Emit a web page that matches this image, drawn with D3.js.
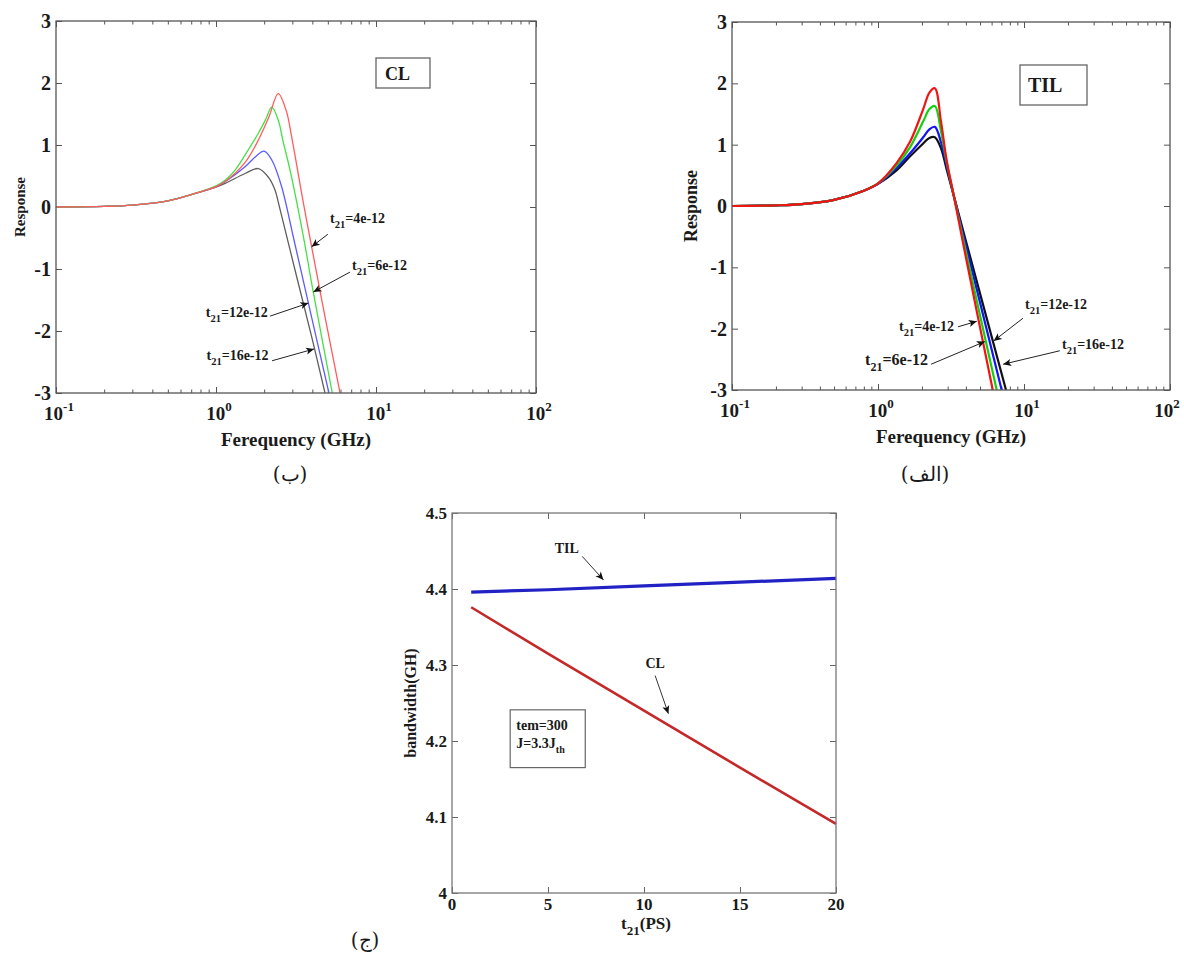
<!DOCTYPE html>
<html><head><meta charset="utf-8">
<script src="https://cdn.jsdelivr.net/npm/d3@7"></script>
<style>
body{margin:0;background:#fff}
svg{display:block}
text{font-family:"Liberation Serif","Times New Roman",serif;fill:#1a1a1a}
</style>
</head><body>
<svg id="c" width="1184" height="961"></svg>
<script>
// ---------------- DATA ----------------
const logTickValues = [0.1, 1, 10, 100];
const logTickExponents = ["-1", "0", "1", "2"];
const respTicks = [-3, -2, -1, 0, 1, 2, 3];

// Panel (ب) : CL
const clFreqT4  = [0.1,0.2,0.3,0.5,0.7,1.0,1.14,1.52,1.84,2.14,2.45,2.75,2.97,3.52,3.96,4.62,5.96];
const clRespT4  = [0,0.01,0.03,0.1,0.2,0.33,0.41,0.72,1.08,1.45,1.83,1.55,1.13,0.06,-0.64,-1.55,-3.0];
const clFreqT6  = [0.1,0.2,0.3,0.5,0.7,1.0,1.14,1.32,1.52,1.84,2.05,2.23,2.45,2.63,2.9,3.52,4.0,5.33];
const clRespT6  = [0,0.01,0.03,0.1,0.2,0.34,0.43,0.6,0.84,1.19,1.42,1.61,1.4,1.05,0.6,-0.48,-1.29,-3.0];
const clFreqT12 = [0.1,0.2,0.3,0.5,0.7,1.0,1.14,1.52,1.78,2.0,2.24,2.57,3.04,3.78,5.08];
const clRespT12 = [0,0.01,0.03,0.1,0.2,0.33,0.41,0.65,0.82,0.9,0.75,0.33,-0.48,-1.55,-3.0];
const clFreqT16 = [0.1,0.2,0.3,0.5,0.7,1.0,1.14,1.52,1.84,2.14,2.34,2.45,3.12,3.96,4.8];
const clRespT16 = [0,0.01,0.03,0.1,0.2,0.32,0.38,0.54,0.62,0.47,0.27,0.08,-1.02,-2.09,-3.0];

// Panel (الف) : TIL
const tilFreqT4  = [0.1,0.2,0.3,0.5,0.8,1.0,1.34,1.66,2.04,2.25,2.45,2.7,2.95,3.31,3.94,6.11];
const tilRespT4  = [0,0.01,0.03,0.1,0.25,0.37,0.7,1.05,1.58,1.85,1.92,1.38,0.75,0.16,-0.76,-3.0];
const tilFreqT6  = [0.1,0.2,0.3,0.5,0.8,1.0,1.34,1.66,2.04,2.25,2.45,2.7,2.95,3.31,3.98,6.5];
const tilRespT6  = [0,0.01,0.03,0.1,0.25,0.37,0.66,0.96,1.38,1.58,1.63,1.22,0.72,0.16,-0.72,-3.0];
const tilFreqT12 = [0.1,0.2,0.3,0.5,0.8,1.0,1.34,1.66,2.04,2.25,2.45,2.7,2.95,3.31,4.0,7.03];
const tilRespT12 = [0,0.01,0.03,0.1,0.25,0.36,0.62,0.86,1.12,1.25,1.29,1.04,0.66,0.16,-0.64,-3.0];
const tilFreqT16 = [0.1,0.2,0.3,0.5,0.8,1.0,1.34,1.66,2.04,2.25,2.45,2.7,2.95,3.31,4.0,7.53];
const tilRespT16 = [0,0.01,0.03,0.1,0.25,0.36,0.58,0.81,1.02,1.11,1.12,0.94,0.6,0.16,-0.57,-3.0];

// Panel (ج) : bandwidth vs t21
const t21Values   = [1, 5, 10, 15, 20];
const bwTIL       = [4.396, 4.399, 4.404, 4.409, 4.414];
const bwCL        = [4.376, 4.315, 4.240, 4.165, 4.091];
const t21Ticks    = [0, 5, 10, 15, 20];
const bwTicks     = [4, 4.1, 4.2, 4.3, 4.4, 4.5];

// ---------------- DRAWING ----------------
const W = 1184;
const svg = d3.select("#c");
const defs = svg.append("defs");
defs.append("marker").attr("id","ah").attr("viewBox","0 0 10 10")
  .attr("refX",10).attr("refY",5).attr("markerWidth",10).attr("markerHeight",8)
  .attr("markerUnits","userSpaceOnUse").attr("orient","auto")
  .append("path").attr("d","M0,0.5 L10,5 L0,9.5 L2.5,5 z").attr("fill","#111");

function subLabel(sel, parts, size, subSize) {
  let prevSub = false;
  parts.forEach(([txt, sub]) => {
    const t = sel.append("tspan").text(txt);
    if (sub && !prevSub) t.attr("dy", Math.round(size*0.35)).attr("font-size", subSize);
    else if (!sub && prevSub) t.attr("dy", -Math.round(size*0.35));
    prevSub = sub;
  });
}

function drawLogPanel(p) {
  const x = d3.scaleLog().domain([0.1,100]).range([p.left,p.right]);
  const y = d3.scaleLinear().domain([-3,3]).range([p.bottom,p.top]);
  const g = svg.append("g");
  const minor = [];
  logTickValues.slice(0,-1).forEach(d => { for (let k=2;k<10;k++) minor.push(d*k); });

  const ax = (gen, tr, vals, size) => g.append("g").attr("transform", tr)
    .call(gen.tickValues(vals).tickSizeInner(size).tickSizeOuter(0).tickFormat(""))
    .call(s => s.select(".domain").remove())
    .call(s => s.selectAll("line").attr("stroke","#555").attr("stroke-width",1));
  ax(d3.axisBottom(x), `translate(0,${p.bottom})`, logTickValues, -6);
  ax(d3.axisBottom(x), `translate(0,${p.bottom})`, minor, -3.5);
  ax(d3.axisTop(x), `translate(0,${p.top})`, logTickValues, -6);
  ax(d3.axisTop(x), `translate(0,${p.top})`, minor, -3.5);
  ax(d3.axisLeft(y), `translate(${p.left},0)`, respTicks, -6);
  ax(d3.axisRight(y), `translate(${p.right},0)`, respTicks, -6);

  const clipId = p.id + "clip";
  defs.append("clipPath").attr("id", clipId).append("rect")
    .attr("x", p.left).attr("y", p.top).attr("width", p.right-p.left).attr("height", p.bottom-p.top);

  const line = d3.line().x(d => x(d[0])).y(d => y(d[1])).curve(d3.curveCatmullRom.alpha(0.5));
  g.append("g").attr("clip-path", `url(#${clipId})`)
    .selectAll("path").data(p.series).join("path")
    .attr("d", s => line(d3.zip(s.f, s.v)))
    .attr("fill","none").attr("stroke", s => s.color).attr("stroke-width", p.lw)
    .attr("stroke-linejoin","round");

  g.append("rect").attr("x",p.left).attr("y",p.top)
    .attr("width",p.right-p.left).attr("height",p.bottom-p.top)
    .attr("fill","none").attr("stroke","#555").attr("stroke-width",1.3);

  g.selectAll(".xl").data(logTickValues).join("text")
    .attr("x", d => Math.min(x(d) + 3, W - 17)).attr("y", p.bottom + 27).attr("text-anchor","middle")
    .attr("font-size",19).attr("font-weight","bold")
    .each(function(d,i){
      const t = d3.select(this);
      t.append("tspan").text("10");
      t.append("tspan").attr("dy",-9).attr("font-size",13).text(logTickExponents[i]);
    });
  g.selectAll(".yl").data(respTicks).join("text")
    .attr("x", p.left - 5).attr("y", d => y(d) + 7).attr("text-anchor","end")
    .attr("font-size",20).attr("font-weight","bold").text(d => d);

  g.append("text").attr("x",(p.left+p.right)/2).attr("y",p.bottom+53)
    .attr("text-anchor","middle").attr("font-size",19).attr("font-weight","bold")
    .text("Ferequency (GHz)");
  g.append("text").attr("transform",`translate(${p.yLabelX},${(p.top+p.bottom)/2}) rotate(-90)`)
    .attr("text-anchor","middle").attr("font-size",p.yLabelSize).attr("font-weight","bold")
    .text("Response");

  const b = p.box;
  g.append("rect").attr("x",b.x).attr("y",b.y).attr("width",b.w).attr("height",b.h)
    .attr("fill","#fff").attr("stroke","#666").attr("stroke-width",1.3);
  g.append("text").attr("x",b.tx).attr("y",b.ty).attr("font-size",b.fs).attr("font-weight","bold").text(b.text);

  p.notes.forEach(n => {
    g.append("line").attr("x1",x(n.from[0])).attr("y1",y(n.from[1]))
      .attr("x2",x(n.tip[0])).attr("y2",y(n.tip[1]))
      .attr("stroke","#222").attr("stroke-width",1).attr("marker-end","url(#ah)");
    const t = g.append("text").attr("x",x(n.at[0])).attr("y",y(n.at[1]))
      .attr("text-anchor",n.anchor).attr("font-size",n.fs).attr("font-weight","bold");
    subLabel(t, [["t",false],["21",true],["=" + n.label,false]], n.fs, n.fs*0.75);
  });

  svg.append("text").attr("x",p.capX).attr("y",p.capY).attr("text-anchor","middle")
    .attr("font-size",20).style("font-family","'DejaVu Serif','Noto Sans',serif").text(p.caption);
}

drawLogPanel({
  id:"cl", left:56, right:536, top:21, bottom:393, lw:1.3,
  series:[
    {f:clFreqT16, v:clRespT16, color:"#5e5e5e"},
    {f:clFreqT12, v:clRespT12, color:"#5b5bff"},
    {f:clFreqT6,  v:clRespT6,  color:"#45e045"},
    {f:clFreqT4,  v:clRespT4,  color:"#ff5c5c"}
  ],
  yLabelX:25, yLabelSize:15,
  box:{x:376,y:58,w:54,h:30,tx:385,ty:80,fs:18,text:"CL"},
  notes:[
    {label:"4e-12",  at:[5.16,-0.26], anchor:"start", from:[5.0,-0.44],  tip:[3.96,-0.64], fs:14},
    {label:"6e-12",  at:[7.08,-1.02], anchor:"start", from:[6.88,-1.05], tip:[4.06,-1.37], fs:14},
    {label:"12e-12", at:[2.11,-1.77], anchor:"end",   from:[2.18,-1.76], tip:[3.78,-1.55], fs:14},
    {label:"16e-12", at:[2.13,-2.47], anchor:"end",   from:[2.24,-2.48], tip:[4.1,-2.29],  fs:14}
  ],
  caption:"(ب)", capX:290, capY:481
});

drawLogPanel({
  id:"til", left:732, right:1170, top:22, bottom:390, lw:2.2,
  series:[
    {f:tilFreqT16, v:tilRespT16, color:"#111111"},
    {f:tilFreqT12, v:tilRespT12, color:"#1414f0"},
    {f:tilFreqT6,  v:tilRespT6,  color:"#12d012"},
    {f:tilFreqT4,  v:tilRespT4,  color:"#f01414"}
  ],
  yLabelX:697, yLabelSize:18,
  box:{x:1020,y:65,w:67,h:40,tx:1028,ty:92,fs:20,text:"TIL"},
  notes:[
    {label:"4e-12",  at:[3.32,-2.04], anchor:"end",   from:[3.53,-1.97], tip:[4.75,-1.88], fs:14},
    {label:"6e-12",  at:[2.2,-2.59],  anchor:"end",   from:[2.31,-2.58], tip:[5.4,-2.21],  fs:16},
    {label:"12e-12", at:[10.16,-1.68],anchor:"start", from:[9.84,-1.83], tip:[6.2,-2.2],   fs:14},
    {label:"16e-12", at:[18.2,-2.33], anchor:"start", from:[17.6,-2.36], tip:[7.2,-2.58],  fs:14}
  ],
  caption:"(الف)", capX:925, capY:481
});

// ---------- Panel (ج) ----------
(function(){
  const L=452, R=836, T=513, B=893;
  const x = d3.scaleLinear().domain([0,20]).range([L,R]);
  const y = d3.scaleLinear().domain([4,4.5]).range([B,T]);
  const g = svg.append("g");
  const ax = (gen, tr, vals) => g.append("g").attr("transform", tr)
    .call(gen.tickValues(vals).tickSizeInner(-6).tickSizeOuter(0).tickFormat(""))
    .call(s => s.select(".domain").remove())
    .call(s => s.selectAll("line").attr("stroke","#666"));
  ax(d3.axisBottom(x), `translate(0,${B})`, t21Ticks);
  ax(d3.axisTop(x), `translate(0,${T})`, t21Ticks);
  ax(d3.axisLeft(y), `translate(${L},0)`, bwTicks);
  ax(d3.axisRight(y), `translate(${R},0)`, bwTicks);

  const line = d3.line().x(d => x(d[0])).y(d => y(d[1]));
  g.append("path").attr("d", line(d3.zip(t21Values, bwTIL)))
    .attr("fill","none").attr("stroke","#2222c4").attr("stroke-width",3.2);
  g.append("path").attr("d", line(d3.zip(t21Values, bwCL)))
    .attr("fill","none").attr("stroke","#c42828").attr("stroke-width",2.6);

  g.append("rect").attr("x",L).attr("y",T).attr("width",R-L).attr("height",B-T)
    .attr("fill","none").attr("stroke","#777").attr("stroke-width",1.3);

  g.selectAll(".xl").data(t21Ticks).join("text")
    .attr("x", d => x(d)).attr("y", B + 17).attr("text-anchor","middle")
    .attr("font-size",17).attr("font-weight","bold").text(d => d);
  g.selectAll(".yl").data(bwTicks).join("text")
    .attr("x", L - 5).attr("y", d => y(d) + 6).attr("text-anchor","end")
    .attr("font-size",17).attr("font-weight","bold").text(d => d);

  const xl = g.append("text").attr("x",(L+R)/2 + 2).attr("y",B+36).attr("text-anchor","middle")
    .attr("font-size",17).attr("font-weight","bold");
  subLabel(xl, [["t",false],["21",true],["(PS)",false]], 17, 13);
  g.append("text").attr("transform",`translate(416,${(T+B)/2}) rotate(-90)`)
    .attr("text-anchor","middle").attr("font-size",16).attr("font-weight","bold")
    .text("bandwidth(GH)");

  const notes = [
    {text:"TIL", at:[5.98,4.447], from:[6.78,4.443], tip:[7.89,4.412]},
    {text:"CL",  at:[10.58,4.296], from:[10.58,4.286], tip:[11.27,4.236]}
  ];
  notes.forEach(n => {
    g.append("text").attr("x",x(n.at[0])).attr("y",y(n.at[1])).attr("text-anchor","middle")
      .attr("font-size",14).attr("font-weight","bold").text(n.text);
    g.append("line").attr("x1",x(n.from[0])).attr("y1",y(n.from[1]))
      .attr("x2",x(n.tip[0])).attr("y2",y(n.tip[1]))
      .attr("stroke","#333").attr("stroke-width",1).attr("marker-end","url(#ah)");
  });

  g.append("rect").attr("x",x(3.03)).attr("y",y(4.241))
    .attr("width",x(6.94)-x(3.03)).attr("height",y(4.165)-y(4.241))
    .attr("fill","#fff").attr("stroke","#666").attr("stroke-width",1.2);
  g.append("text").attr("x",x(3.35)).attr("y",y(4.215)).attr("font-size",14).attr("font-weight","bold").text("tem=300");
  const j = g.append("text").attr("x",x(3.35)).attr("y",y(4.191)).attr("font-size",14).attr("font-weight","bold");
  subLabel(j, [["J=3.3J",false],["th",true]], 14, 10);

  svg.append("text").attr("x",365).attr("y",947).attr("text-anchor","middle")
    .attr("font-size",20).style("font-family","'DejaVu Serif','Noto Sans',serif").text("(ج)");
})();
</script>
</body></html>
